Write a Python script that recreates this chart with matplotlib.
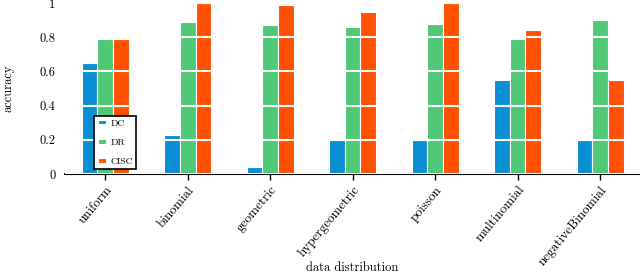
import numpy as np
import matplotlib.pyplot as plt

plt.rcParams['font.family'] = ['cmr10', 'DejaVu Serif']
plt.rcParams['axes.formatter.use_mathtext'] = True

categories = ['uniform', 'binomial', 'geometric', 'hypergeometric', 'poisson',
              'multinomial', 'negativeBinomial']
dc = [0.65, 0.23, 0.04, 0.20, 0.20, 0.55, 0.20]
dr = [0.79, 0.89, 0.87, 0.86, 0.88, 0.79, 0.90]
cisc = [0.79, 1.00, 0.99, 0.95, 1.00, 0.84, 0.55]

fig = plt.figure(figsize=(6.4, 2.75), dpi=100)
ax = fig.add_axes([0.102, 0.367, 0.898, 0.622])

x = np.arange(len(categories))
w = 0.19
colors = ['#0a8fd4', '#4fc878', '#ff5100']
for off, vals, c, lab in zip([-w, 0, w], [dc, dr, cisc], colors, ['DC', 'DR', 'CISC']):
    ax.bar(x + off, vals, width=w, color=c, edgecolor='white', linewidth=0.8, label=lab)

ax.set_xlim(-0.485, 6.485)
ax.set_ylim(0, 1)
ax.set_yticks([0, 0.2, 0.4, 0.6, 0.8, 1])
ax.set_yticklabels(['0', '0.2', '0.4', '0.6', '0.8', '1'], fontsize=9)
ax.set_xticks(x)
ax.set_xticklabels(categories, rotation=50, ha='right', rotation_mode='anchor', fontsize=9.5)
ax.tick_params(axis='y', length=0, pad=7)
ax.tick_params(axis='x', length=4, width=1, direction='out', pad=3)

# white gridlines drawn over the bars
ax.set_axisbelow(False)
ax.yaxis.grid(True, color='white', linewidth=1.5)

for s in ['top', 'right', 'left']:
    ax.spines[s].set_visible(False)
ax.spines['bottom'].set_linewidth(1.5)

ax.set_xlabel('data distribution', fontsize=9, va='center')
ax.xaxis.set_label_coords(0.5, -0.55)
ax.set_ylabel('accuracy', fontsize=9, labelpad=18)

leg = ax.legend(loc='lower left', bbox_to_anchor=(0.042, 0.0), fontsize=7,
                handlelength=0.85, handleheight=0.35, handletextpad=0.45,
                fancybox=False, edgecolor='black', framealpha=1,
                borderpad=0.35, labelspacing=1.1)
leg.get_frame().set_linewidth(1.2)

fig.savefig('out.png', dpi=100)
